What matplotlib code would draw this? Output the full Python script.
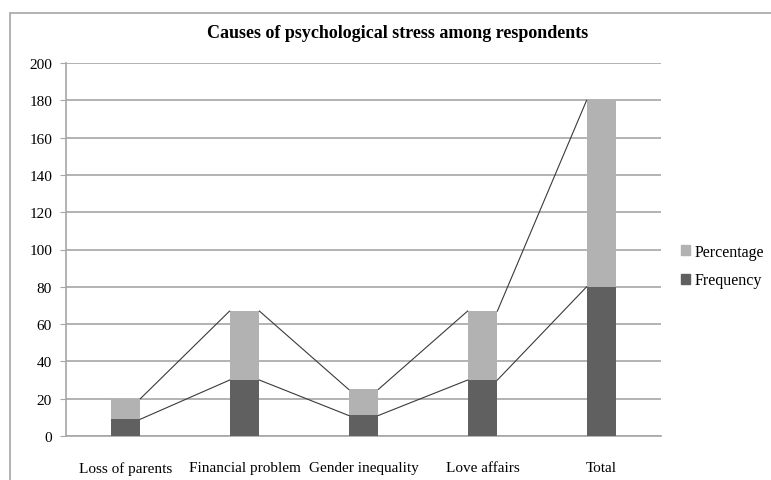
import matplotlib.pyplot as plt
import numpy as np
from matplotlib.patches import Rectangle, Patch

categories = ["Loss of parents", "Financial problem", "Gender inequality", "Love affairs", "Total"]
frequency = [9, 30, 11, 30, 80]
percentage = [11, 37, 14, 37, 100]

plt.rcParams["font.family"] = ["Liberation Serif", "DejaVu Serif"]

W, H = 771, 481
fig = plt.figure(figsize=(W / 100, H / 100), dpi=100)
# plot area in pixels: x 66..661, y 64..437
ax = fig.add_axes([66 / W, 1 - 437 / H, (661 - 66) / W, (437 - 64) / H])

# outer chart frame
fig.patches.append(Rectangle((10 / W, -0.1), 1.1, 1 - 14 / H + 0.1, transform=fig.transFigure,
                             fill=False, edgecolor="#a6a6a6", linewidth=1.2))

x = np.arange(len(categories))
width = 0.25
dark = "#606060"
light = "#b2b2b2"

ax.bar(x, frequency, width, color=dark, zorder=3, label="Frequency")
ax.bar(x, percentage, width, bottom=frequency, color=light, zorder=3, label="Percentage")

# series lines between bar tops
tops = np.array(frequency) + np.array(percentage)
for level in (np.array(frequency), tops):
    for i in range(len(x) - 1):
        ax.plot([x[i] + width / 2, x[i + 1] - width / 2], [level[i], level[i + 1]],
                color="#3a3a3a", linewidth=0.8, zorder=4)

ax.set_xlim(-0.5, len(x) - 0.5)
ax.set_ylim(0, 200)
ax.set_yticks(range(0, 201, 20))
ax.yaxis.grid(True, color="#a6a6a6", linewidth=1.2, zorder=0)
ax.set_axisbelow(True)
for s in ("top", "right"):
    ax.spines[s].set_visible(False)
ax.spines["left"].set_color("#a6a6a6")
ax.spines["bottom"].set_color("#a6a6a6")
ax.spines["left"].set_linewidth(1.2)
ax.spines["bottom"].set_linewidth(1.2)
ax.tick_params(axis="y", length=4, color="#a6a6a6", labelsize=11, pad=6)
ax.tick_params(axis="x", length=0, labelsize=11, pad=18)
ax.set_xticks(x)
ax.set_xticklabels(categories)

fig.text(398 / W, 1 - 34 / H, "Causes of psychological stress among respondents",
         ha="center", va="center", fontsize=13, fontweight="bold")

handles = [Patch(color=light, label="Percentage"), Patch(color=dark, label="Frequency")]
fig.legend(handles=handles, loc="center left", bbox_to_anchor=(681 / W, 1 - 267 / H),
           frameon=False, fontsize=11.5, handlelength=0.55, handleheight=0.55,
           handletextpad=0.3, labelspacing=0.8, borderpad=0, borderaxespad=0)

fig.savefig("out.png", dpi=100)
